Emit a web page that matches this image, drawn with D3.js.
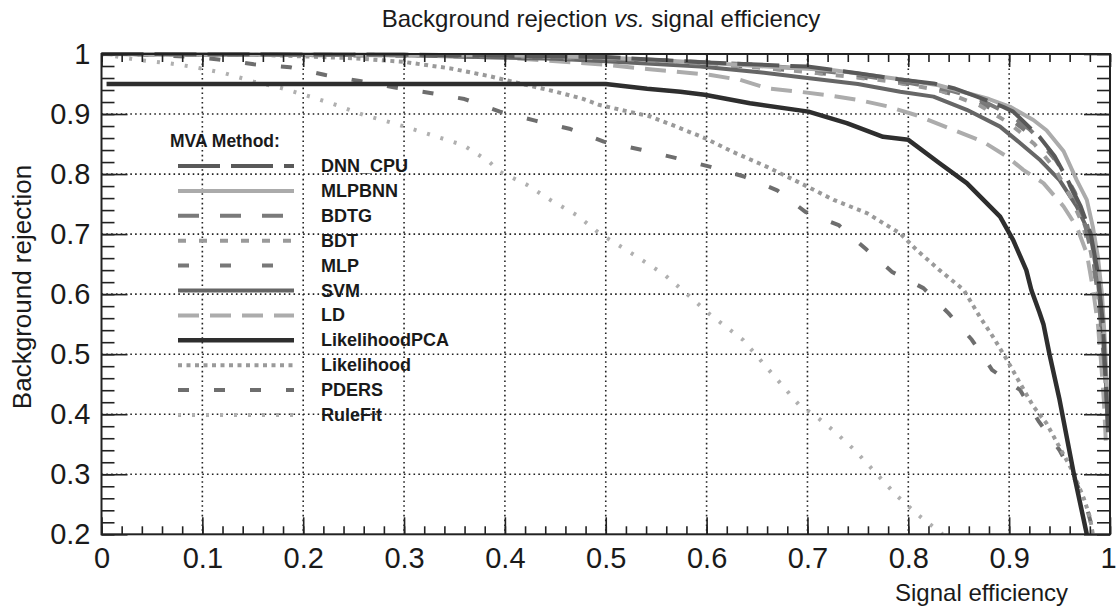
<!DOCTYPE html>
<html><head><meta charset="utf-8">
<script src="https://cdn.jsdelivr.net/npm/d3@7"></script>
<style>
body{margin:0;background:#fff;}
svg{display:block;font-family:"Liberation Sans",Arial,Helvetica,sans-serif;}
</style>
</head><body>
<svg id="chart" width="1117" height="611"></svg>
<script>
// ---------------- data ----------------
const methods = ["DNN_CPU","MLPBNN","BDTG","BDT","MLP","SVM","LD","LikelihoodPCA","Likelihood","PDERS","RuleFit"];
const xTickValues = [0,0.1,0.2,0.3,0.4,0.5,0.6,0.7,0.8,0.9,1];
const xTickLabels = ["0","0.1","0.2","0.3","0.4","0.5","0.6","0.7","0.8","0.9","1"];
const yTickValues = [0.2,0.3,0.4,0.5,0.6,0.7,0.8,0.9,1];
const yTickLabels = ["0.2","0.3","0.4","0.5","0.6","0.7","0.8","0.9","1"];

// ROC points [signal efficiency, background rejection]
const rocDNN_CPU = [[0,1],[0.3,0.999],[0.5,0.995],[0.6,0.986],[0.7,0.979],[0.75,0.968],[0.79,0.958],[0.825,0.951],[0.845,0.943],[0.868,0.929],[0.894,0.912],[0.904,0.904],[0.93,0.862],[0.945,0.83],[0.958,0.79],[0.971,0.746],[0.981,0.7],[0.988,0.635],[0.993,0.55],[0.996,0.45],[0.998,0.38]];
const rocMLPBNN = [[0,1],[0.4,0.998],[0.5,0.994],[0.594,0.986],[0.65,0.98],[0.726,0.973],[0.792,0.958],[0.83,0.948],[0.858,0.935],[0.88,0.925],[0.901,0.912],[0.924,0.89],[0.937,0.873],[0.954,0.838],[0.967,0.79],[0.977,0.757],[0.983,0.712],[0.988,0.662],[0.992,0.6],[0.995,0.52],[0.997,0.44],[0.998,0.38]];
const rocBDTG = [[0,1],[0.4,0.998],[0.55,0.99],[0.65,0.982],[0.7,0.975],[0.75,0.965],[0.8,0.952],[0.84,0.94],[0.87,0.925],[0.9,0.9],[0.92,0.875],[0.94,0.84],[0.955,0.8],[0.966,0.76],[0.976,0.71],[0.984,0.65],[0.99,0.57],[0.994,0.49],[0.997,0.42]];
const rocBDT = [[0,1],[0.4,0.997],[0.5,0.993],[0.6,0.985],[0.7,0.97],[0.78,0.955],[0.83,0.94],[0.87,0.915],[0.9,0.885],[0.925,0.85],[0.945,0.81],[0.96,0.765],[0.972,0.72],[0.981,0.67],[0.988,0.6],[0.993,0.52],[0.996,0.44]];
const rocMLP = [[0,1],[0.4,0.996],[0.55,0.988],[0.65,0.978],[0.75,0.962],[0.82,0.945],[0.87,0.92],[0.9,0.893],[0.93,0.855],[0.95,0.815],[0.965,0.77],[0.976,0.725],[0.985,0.66],[0.991,0.58],[0.995,0.5],[0.997,0.43]];
const rocSVM = [[0,1],[0.3,0.998],[0.45,0.992],[0.5,0.988],[0.594,0.979],[0.65,0.97],[0.7,0.96],[0.75,0.95],[0.792,0.937],[0.825,0.929],[0.858,0.907],[0.891,0.879],[0.907,0.857],[0.931,0.823],[0.95,0.79],[0.967,0.746],[0.981,0.696],[0.988,0.624],[0.993,0.53],[0.996,0.45],[0.998,0.37]];
const rocLD = [[0,1],[0.3,0.998],[0.4,0.994],[0.5,0.982],[0.541,0.975],[0.604,0.965],[0.633,0.957],[0.66,0.943],[0.693,0.937],[0.726,0.93],[0.752,0.923],[0.779,0.913],[0.808,0.898],[0.841,0.876],[0.874,0.854],[0.898,0.829],[0.914,0.807],[0.934,0.785],[0.954,0.746],[0.967,0.712],[0.977,0.668],[0.983,0.61],[0.988,0.55],[0.991,0.49],[0.994,0.42],[0.996,0.35]];
const rocLikelihoodPCA = [[0.005,0.95],[0.5,0.95],[0.541,0.942],[0.574,0.937],[0.598,0.932],[0.643,0.918],[0.701,0.904],[0.739,0.885],[0.775,0.862],[0.8,0.857],[0.831,0.818],[0.858,0.785],[0.891,0.729],[0.904,0.69],[0.917,0.64],[0.922,0.607],[0.93,0.57],[0.934,0.55],[0.94,0.5],[0.95,0.424],[0.964,0.302],[0.977,0.2]];
const rocLikelihood = [[0,1],[0.15,0.999],[0.25,0.993],[0.299,0.987],[0.346,0.976],[0.385,0.963],[0.412,0.952],[0.451,0.937],[0.478,0.925],[0.494,0.915],[0.544,0.896],[0.57,0.879],[0.598,0.86],[0.626,0.837],[0.66,0.812],[0.693,0.785],[0.726,0.757],[0.759,0.735],[0.792,0.701],[0.808,0.674],[0.831,0.64],[0.855,0.607],[0.871,0.562],[0.884,0.529],[0.898,0.49],[0.911,0.451],[0.924,0.413],[0.937,0.385],[0.95,0.345],[0.963,0.305],[0.974,0.26],[0.98,0.229],[0.983,0.2]];
const rocPDERS = [[0,1],[0.05,0.999],[0.09,0.995],[0.116,0.991],[0.151,0.983],[0.187,0.978],[0.222,0.965],[0.256,0.955],[0.291,0.944],[0.326,0.935],[0.36,0.925],[0.395,0.904],[0.43,0.889],[0.465,0.875],[0.498,0.854],[0.534,0.841],[0.569,0.827],[0.604,0.812],[0.637,0.796],[0.67,0.773],[0.698,0.737],[0.731,0.715],[0.758,0.675],[0.784,0.637],[0.815,0.61],[0.84,0.568],[0.863,0.524],[0.883,0.474],[0.911,0.44],[0.929,0.389],[0.95,0.34],[0.963,0.3],[0.977,0.245],[0.984,0.2]];
const rocRuleFit = [[0,1],[0.0365,0.99],[0.065,0.985],[0.093,0.978],[0.122,0.968],[0.151,0.954],[0.179,0.943],[0.207,0.929],[0.233,0.915],[0.261,0.898],[0.289,0.885],[0.316,0.871],[0.359,0.848],[0.384,0.821],[0.395,0.804],[0.422,0.782],[0.445,0.757],[0.471,0.732],[0.494,0.701],[0.521,0.673],[0.557,0.634],[0.58,0.601],[0.602,0.568],[0.636,0.524],[0.655,0.487],[0.674,0.45],[0.693,0.413],[0.706,0.4],[0.727,0.371],[0.747,0.34],[0.769,0.3],[0.788,0.265],[0.81,0.232],[0.831,0.204],[0.834,0.2]];

const seriesData = {DNN_CPU:rocDNN_CPU, MLPBNN:rocMLPBNN, BDTG:rocBDTG, BDT:rocBDT, MLP:rocMLP, SVM:rocSVM, LD:rocLD, LikelihoodPCA:rocLikelihoodPCA, Likelihood:rocLikelihood, PDERS:rocPDERS, RuleFit:rocRuleFit};

// ---------------- styles ----------------
const styles = {
  DNN_CPU:{color:"#595959", dash:"42,11", w:4},
  MLPBNN:{color:"#ababab", dash:null, w:4},
  BDTG:{color:"#7a7a7a", dash:"21,21", w:4},
  BDT:{color:"#9a9a9a", dash:"8,13", w:4},
  MLP:{color:"#787878", dash:"11,31", w:4},
  SVM:{color:"#666666", dash:null, w:4},
  LD:{color:"#acacac", dash:"21,11", w:4},
  LikelihoodPCA:{color:"#2e2e2e", dash:null, w:4.5},
  Likelihood:{color:"#9a9a9a", dash:"4,4.5", w:4},
  PDERS:{color:"#6e6e6e", dash:"11,25", w:4},
  RuleFit:{color:"#b0b0b0", dash:"3,11", w:4}
};

const L = 101.5, R = 1110, T = 54, B = 534.3;
const svg = d3.select("#chart");
const x = d3.scaleLinear().domain([0,1]).range([L,R]);
const y = d3.scaleLinear().domain([0.2,1]).range([B,T]);
const ink = "#222";

// grid
const g = svg.append("g");
g.selectAll(".gx").data(xTickValues.filter(v=>v>0&&v<1)).enter().append("line")
  .attr("x1",d=>x(d)).attr("x2",d=>x(d)).attr("y1",T).attr("y2",B)
  .attr("stroke",ink).attr("stroke-width",1.6).attr("stroke-dasharray","1.6,3.2");
g.selectAll(".gy").data(yTickValues.filter(v=>v>0.2&&v<1)).enter().append("line")
  .attr("y1",d=>y(d)).attr("y2",d=>y(d)).attr("x1",L).attr("x2",R)
  .attr("stroke",ink).attr("stroke-width",1.6).attr("stroke-dasharray","1.6,3.2");

// curves
svg.append("clipPath").attr("id","clip").append("rect").attr("x",L).attr("y",T-3).attr("width",R-L).attr("height",B-T+3);
const line = d3.line().x(d=>x(d[0])).y(d=>y(d[1]));
const cg = svg.append("g").attr("clip-path","url(#clip)");
methods.slice().reverse().forEach(m=>{
  const s = styles[m];
  cg.append("path").datum(seriesData[m]).attr("d",line).attr("fill","none")
    .attr("stroke",s.color).attr("stroke-width",s.w)
    .attr("stroke-dasharray",s.dash).attr("stroke-linejoin","round");
});

// axes (ticks inward)
const minorX = d3.range(0,1.0001,0.02), minorY = d3.range(0.2,1.0001,0.02);
function styleAxis(sel){ sel.select(".domain").remove(); sel.selectAll("line").attr("stroke",ink).attr("stroke-width",1.6); sel.selectAll("text").attr("fill","#1a1a1a").attr("font-size",29).attr("font-family","'Liberation Sans',Arial,sans-serif"); }
svg.append("g").attr("transform",`translate(0,${B})`).call(d3.axisBottom(x).tickValues(minorX).tickSizeInner(-8).tickSizeOuter(0).tickFormat("")).call(styleAxis);
const xAxisG = svg.append("g").attr("transform",`translate(0,${B})`).call(d3.axisBottom(x).tickValues(xTickValues).tickSizeInner(-17).tickSizeOuter(0).tickPadding(13).tickFormat((d,i)=>xTickLabels[i])).call(styleAxis);
xAxisG.selectAll("text").filter(d=>d===1).attr("dx",-2);
svg.append("g").attr("transform",`translate(0,${T})`).call(d3.axisTop(x).tickValues(minorX).tickSizeInner(-8).tickSizeOuter(0).tickFormat("")).call(styleAxis);
svg.append("g").attr("transform",`translate(0,${T})`).call(d3.axisTop(x).tickValues(xTickValues).tickSizeInner(-13).tickSizeOuter(0).tickFormat("")).call(styleAxis);
svg.append("g").attr("transform",`translate(${L},0)`).call(d3.axisLeft(y).tickValues(minorY).tickSizeInner(-13).tickSizeOuter(0).tickFormat("")).call(styleAxis);
svg.append("g").attr("transform",`translate(${L},0)`).call(d3.axisLeft(y).tickValues(yTickValues).tickSizeInner(-26).tickSizeOuter(0).tickPadding(11).tickFormat((d,i)=>yTickLabels[i])).call(styleAxis);
svg.append("g").attr("transform",`translate(${R},0)`).call(d3.axisRight(y).tickValues(minorY).tickSizeInner(-13).tickSizeOuter(0).tickFormat("")).call(styleAxis);
svg.append("g").attr("transform",`translate(${R},0)`).call(d3.axisRight(y).tickValues(yTickValues).tickSizeInner(-26).tickSizeOuter(0).tickFormat("")).call(styleAxis);

// frame
svg.append("rect").attr("x",L).attr("y",T).attr("width",R-L).attr("height",B-T)
  .attr("fill","none").attr("stroke",ink).attr("stroke-width",2);

// titles
const title = svg.append("text").attr("x",601).attr("y",27).attr("text-anchor","middle")
  .attr("font-size",24).attr("fill","#1a1a1a");
title.append("tspan").text("Background rejection ");
title.append("tspan").attr("font-style","italic").text("vs.");
title.append("tspan").text(" signal efficiency");
svg.append("text").attr("x",1068).attr("y",601).attr("text-anchor","end")
  .attr("font-size",24).attr("fill","#1a1a1a").text("Signal efficiency");
svg.append("text").attr("transform","translate(31,287) rotate(-90)").attr("text-anchor","middle")
  .attr("font-size",26).attr("fill","#1a1a1a").text("Background rejection");

// legend
const lg = svg.append("g");
lg.append("text").attr("x",170).attr("y",147).attr("font-size",17.5).attr("font-weight","bold")
  .attr("fill","#1a1a1a").text("MVA Method:");
methods.forEach((m,i)=>{
  const ly = 166 + i*24.9, s = styles[m];
  lg.append("line").attr("x1",178).attr("x2",294).attr("y1",ly).attr("y2",ly)
    .attr("stroke",s.color).attr("stroke-width",s.w).attr("stroke-dasharray",s.dash);
  lg.append("text").attr("x",321).attr("y",ly+6).attr("font-size",18).attr("font-weight","bold")
    .attr("fill","#1a1a1a").text(m);
});
</script>
</body></html>
